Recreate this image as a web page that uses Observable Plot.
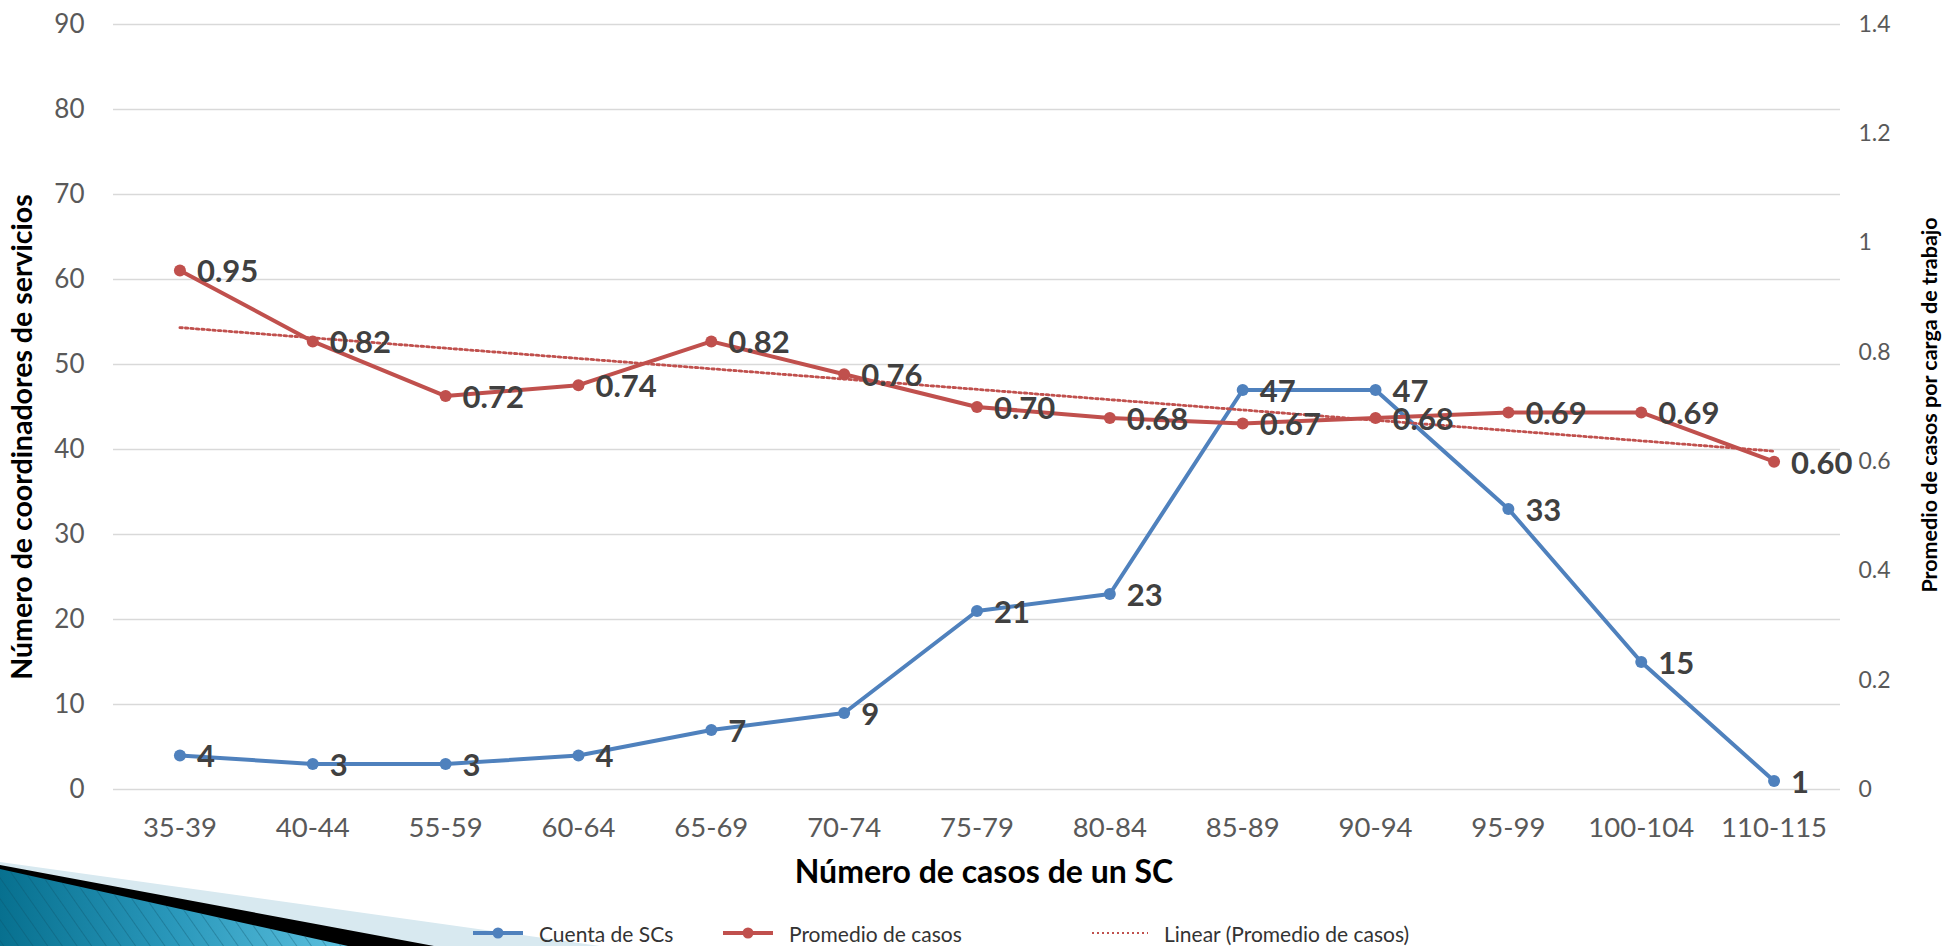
<!DOCTYPE html>
<html>
<head>
<meta charset="utf-8">
<script src="https://cdn.jsdelivr.net/npm/d3@7"></script>
<script src="https://cdn.jsdelivr.net/npm/@observablehq/plot@0.6"></script>
<style>
  html, body { margin: 0; padding: 0; background: #fff; }
  #page { position: relative; width: 1946px; height: 946px; overflow: hidden; font-family: Lato, "Open Sans", sans-serif; }
  #wedge, #chart { position: absolute; left: 0; top: 0; }
  .lg { position: absolute; top: 920px; height: 26px; display: flex; align-items: center; font-size: 21px; color: #333; white-space: nowrap; }
  .lg svg { margin-right: 16px; }
</style>
</head>
<body>
<div id="page">
  <svg id="wedge" width="1946" height="946">
    <defs>
      <linearGradient id="teal" x1="0" y1="0" x2="1" y2="0">
        <stop offset="0" stop-color="#07708f"/>
        <stop offset="0.5" stop-color="#2a98bb"/>
        <stop offset="1" stop-color="#5cc0de"/>
      </linearGradient>
      <pattern id="hatch" width="12" height="12" patternUnits="userSpaceOnUse" patternTransform="rotate(-35)">
        <line x1="0" y1="0" x2="0" y2="12" stroke="#0a4f66" stroke-opacity="0.35" stroke-width="2"/>
      </pattern>
    </defs>
    <polygon points="0,862 600,946 0,946" fill="#d8e9f0"/>
    <polygon points="0,865 434,946 0,946" fill="#000"/>
    <polygon points="0,869 348,946 0,946" fill="url(#teal)"/>
    <polygon points="0,869 348,946 0,946" fill="url(#hatch)"/>
  </svg>
  <div id="chart"></div>
  <div id="legend"></div>
</div>
<script>
// ---- data ----
const categories = ["35-39","40-44","55-59","60-64","65-69","70-74","75-79","80-84","85-89","90-94","95-99","100-104","110-115"];
const cuenta = [4, 3, 3, 4, 7, 9, 21, 23, 47, 47, 33, 15, 1];
const promedio = [0.95, 0.82, 0.72, 0.74, 0.82, 0.76, 0.70, 0.68, 0.67, 0.68, 0.69, 0.69, 0.60];
const leftTicks = [0, 10, 20, 30, 40, 50, 60, 70, 80, 90];
const rightTicks = [0, 0.2, 0.4, 0.6, 0.8, 1, 1.2, 1.4];
const seriesNames = ["Cuenta de SCs", "Promedio de casos", "Linear (Promedio de casos)"];
const xTitle = "Número de casos de un SC";
const yTitle = "Número de coordinadores de servicios";
const y2Title = "Promedio de casos por carga de trabajo";

const leftMax = 90, rightMax = 1.4;
const ratio = leftMax / rightMax;
const BLUE = "#4f81bd", RED = "#c0504d";

const rows = categories.map((c, i) => ({i, cat: c, count: cuenta[i], avg: promedio[i], avgS: promedio[i] * ratio}));

const fmtR = d => d3.format("~g")(+(d / ratio).toFixed(2));

const chart = Plot.plot({
  width: 1946,
  height: 946,
  marginTop: 24,
  marginBottom: 157,
  marginLeft: 113,
  marginRight: 106,
  style: {fontFamily: "Lato, 'Open Sans', sans-serif", background: "transparent", overflow: "visible"},
  x: {type: "linear", domain: [-0.5, categories.length - 0.5]},
  y: {domain: [0, leftMax]},
  marks: [
    Plot.gridY(leftTicks, {stroke: "#d9d9d9", strokeOpacity: 1, strokeWidth: 1.5}),
    Plot.axisY({ticks: leftTicks, tickSize: 0, tickPadding: 29, fontSize: 26, fill: "#595959", label: null}),
    Plot.axisY({anchor: "right", ticks: rightTicks.map(t => t * ratio), tickFormat: fmtR, tickSize: 0, tickPadding: 18, fontSize: 23, fill: "#595959", label: null}),
    Plot.axisX({ticks: d3.range(categories.length), tickFormat: i => categories[i], tickSize: 0, tickPadding: 28, fontSize: 27.5, fill: "#595959", label: null}),
    Plot.line(rows, {x: "i", y: "count", stroke: BLUE, strokeWidth: 4}),
    Plot.dot(rows, {x: "i", y: "count", r: 6, fill: BLUE}),
    Plot.line(rows, {x: "i", y: "avgS", stroke: RED, strokeWidth: 4}),
    Plot.dot(rows, {x: "i", y: "avgS", r: 6, fill: RED}),
    Plot.linearRegressionY(rows, {x: "i", y: "avgS", stroke: RED, strokeWidth: 2.8, strokeDasharray: "2.5,3", ci: 0}),
    Plot.text(rows, {x: "i", y: "count", text: d => String(d.count), textAnchor: "start", dx: 17, dy: 2, fontSize: 31, fontWeight: "bold", fill: "#404040"}),
    Plot.text(rows, {x: "i", y: "avgS", text: d => d.avg.toFixed(2), textAnchor: "start", dx: 17, dy: 2, fontSize: 31, fontWeight: "bold", fill: "#404040"}),
    Plot.text([xTitle], {frameAnchor: "bottom", text: d => d, dx: 7, dy: 93, fontSize: 32, fontWeight: "bold", fill: "#000"}),
    Plot.text([yTitle], {frameAnchor: "left", textAnchor: "middle", text: d => d, rotate: -90, dx: -91, dy: 30, fontSize: 28.5, fontWeight: "bold", fill: "#000"}),
    Plot.text([y2Title], {frameAnchor: "right", textAnchor: "middle", text: d => d, rotate: -90, dx: 90, dy: -2, fontSize: 21.5, fontWeight: "bold", fill: "#000"})
  ]
});
document.getElementById("chart").appendChild(chart);

// ---- legend ----
const legend = document.getElementById("legend");
const lgItems = [
  {name: seriesNames[0], color: BLUE, left: 473, dash: null},
  {name: seriesNames[1], color: RED, left: 723, dash: null},
  {name: seriesNames[2], color: RED, left: 1092, dash: "2,3"}
];
lgItems.forEach(it => {
  const div = document.createElement("div");
  div.className = "lg";
  div.style.left = it.left + "px";
  const w = it.dash ? 56 : 50;
  div.innerHTML = it.dash
    ? `<svg width="${w}" height="14"><line x1="0" y1="7" x2="${w}" y2="7" stroke="${it.color}" stroke-width="2" stroke-dasharray="${it.dash}"/></svg><span>${it.name}</span>`
    : `<svg width="${w}" height="14"><line x1="0" y1="7" x2="${w}" y2="7" stroke="${it.color}" stroke-width="4"/><circle cx="${w/2}" cy="7" r="5.5" fill="${it.color}"/></svg><span>${it.name}</span>`;
  legend.appendChild(div);
});
</script>
</body>
</html>
